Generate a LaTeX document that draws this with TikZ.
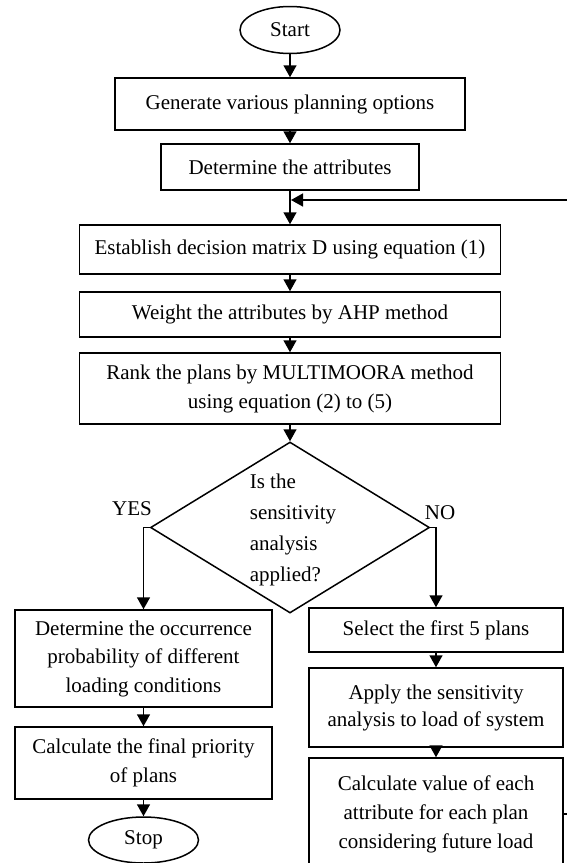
\documentclass[tikz,border=0pt]{standalone}
\usepackage{fontspec}
\setmainfont{Liberation Serif}
\usetikzlibrary{shapes.geometric,arrows.meta}
\begin{document}
\begin{tikzpicture}[x=1pt,y=-1pt,
  every node/.style={font=\fontsize{21}{29}\selectfont},
  box/.style={draw, line width=1.5pt, rectangle, inner sep=0pt, align=center},
  term/.style={draw, line width=1.5pt, ellipse, inner sep=0pt},
  arr/.style={line width=1.5pt, -{Triangle[width=13pt,length=12pt]}},
  ln/.style={line width=1.5pt}]
\clip (0,0) rectangle (567,863);
\useasboundingbox (0,0) rectangle (567,863);
\node[term, minimum width=100pt, minimum height=47pt] (start) at (290,30) {Start};
\node[box, minimum width=350pt, minimum height=52pt] (gen) at (290,104) {Generate various planning options};
\node[box, minimum width=258pt, minimum height=46pt] (attr) at (290,167) {Determine the attributes};
\node[box, minimum width=421pt, minimum height=49pt] (est) at (290,249.5) {Establish decision matrix D using equation (1)};
\node[box, minimum width=421pt, minimum height=45pt] (wt) at (290,314.5) {Weight the attributes by AHP method};
\node[box, minimum width=421pt, minimum height=71pt] (rank) at (290,388.5) {Rank the plans by MULTIMOORA method\\ using equation (2) to (5)};
\node[draw, line width=1.5pt, diamond, inner sep=0pt, minimum width=279pt, minimum height=171pt] (dec) at (290,527.5) {};
\node[align=left, font=\fontsize{21}{31}\selectfont] (dectext) at (293,530) {Is the\\sensitivity\\analysis\\applied?};
\node (yes) at (132,509) {YES};
\node (no) at (440,513) {NO};
\node[box, minimum width=257pt, minimum height=97pt, font=\fontsize{21}{28.5}\selectfont] (occ) at (143.5,658.5) {Determine the occurrence\\probability of different\\loading conditions};
\node[box, minimum width=257pt, minimum height=72pt] (fin) at (143.5,763) {Calculate the final priority\\of plans};
\node[term, minimum width=110pt, minimum height=46pt] (stop) at (143.5,840) {Stop};
\node[box, minimum width=254pt, minimum height=44pt] (sel) at (436,630) {Select the first 5 plans};
\node[box, minimum width=254pt, minimum height=79pt, font=\fontsize{21}{27}\selectfont] (app) at (436,707.5) {Apply the sensitivity\\analysis to load of system};
\node[box, minimum width=254pt, minimum height=112pt, font=\fontsize{21}{29}\selectfont] (calc) at (436,814) {Calculate value of each\\attribute for each plan\\considering future load};
\coordinate (fbR) at (567,200);
\coordinate (fbJ) at (291,200);
\coordinate (stubR) at (567,814);
\draw[arr] (start) -- (gen);
\draw[arr] (gen) -- (attr);
\draw[arr] (attr) -- (est);
\draw[arr] (fbR) -- (fbJ);
\draw[arr] (est) -- (wt);
\draw[arr] (wt) -- (rank);
\draw[arr] (rank) -- (dec.north);
\draw[arr] (dec.west) -| (occ.north);
\draw[arr] (dec.east) -| (sel.north);
\draw[arr] (occ) -- (fin);
\draw[arr] (fin) -- (stop);
\draw[arr] (sel) -- (app);
\draw[arr] (app) -- (calc);
\draw[ln] (calc.east) -- (stubR);
\end{tikzpicture}
\end{document}
